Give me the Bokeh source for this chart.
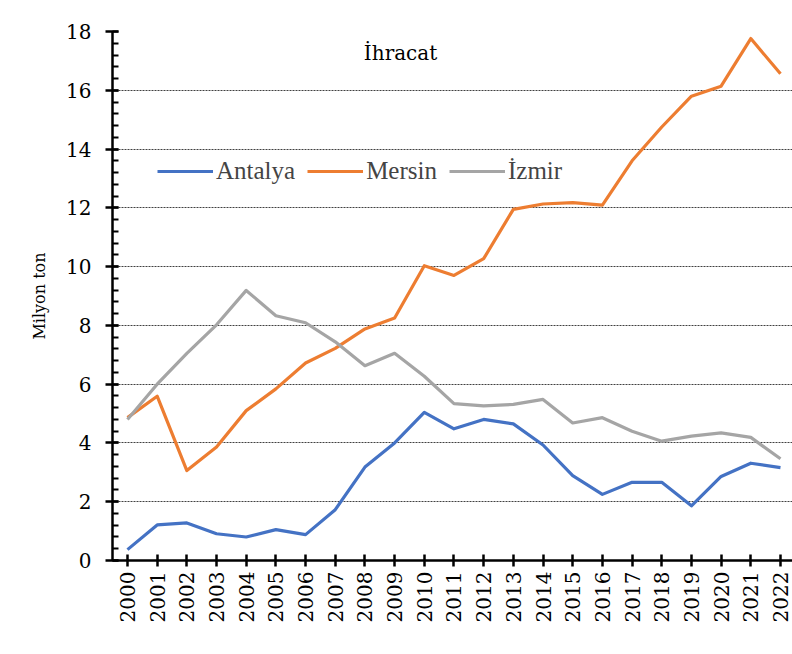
import math
from bokeh.plotting import figure
from bokeh.models import (Range1d, FixedTicker, SingleIntervalTicker, Legend, LegendItem,
                          Label, ColumnDataSource)
from bokeh.embed import file_html
from bokeh.resources import INLINE

years = list(range(2000, 2023))
antalya = [0.37, 1.21, 1.28, 0.91, 0.80, 1.05, 0.88, 1.73, 3.18, 4.00, 5.04, 4.48, 4.80, 4.65,
           3.93, 2.89, 2.25, 2.66, 2.66, 1.86, 2.86, 3.31, 3.16]
mersin = [4.86, 5.59, 3.06, 3.86, 5.10, 5.84, 6.72, 7.22, 7.88, 8.25, 10.03, 9.70, 10.27, 11.95,
          12.13, 12.18, 12.09, 13.60, 14.75, 15.80, 16.14, 17.76, 16.56]
izmir = [4.80, 6.00, 7.05, 8.02, 9.19, 8.33, 8.09, 7.44, 6.63, 7.05, 6.27, 5.34, 5.26, 5.31,
         5.48, 4.68, 4.86, 4.40, 4.06, 4.23, 4.34, 4.19, 3.46]
series_names = ["Antalya", "Mersin", "İzmir"]
series_colors = ["#4472C4", "#ED7D31", "#A5A5A5"]
y_ticks = [0, 2, 4, 6, 8, 10, 12, 14, 16, 18]
title_text = "İhracat"
y_label = "Milyon ton"

LEGEND_FONT = "Liberation Serif"
SERIF = "DejaVu Serif"

p = figure(width=792, height=654, output_backend="svg", toolbar_location=None,
           x_range=Range1d(1999.495, 2022.405), y_range=Range1d(0, 18),
           min_border_left=112, min_border_top=31, min_border_bottom=94, min_border_right=0)
p.outline_line_color = None
p.background_fill_color = "white"
p.border_fill_color = "white"

src = ColumnDataSource(dict(year=years, antalya=antalya, mersin=mersin, izmir=izmir))
renderers = []
for col, color in zip(["antalya", "mersin", "izmir"], series_colors):
    r = p.line("year", col, source=src, line_color=color, line_width=3.2, line_join="round")
    renderers.append(r)

# grid
p.xgrid.grid_line_color = None
p.ygrid.ticker = FixedTicker(ticks=y_ticks[1:])
p.ygrid.grid_line_color = "#404040"
p.ygrid.grid_line_dash = "2 1"
p.ygrid.grid_line_width = 1

# axes
xa = p.xaxis[0]
xa.ticker = FixedTicker(ticks=years)
xa.major_label_orientation = math.pi / 2
xa.major_label_text_font = SERIF
xa.major_label_text_font_size = "20px"
xa.major_label_text_color = "black"
xa.axis_line_width = 2.5
xa.axis_line_color = "black"
xa.major_tick_line_width = 2.5
xa.major_tick_in = 6
xa.major_tick_out = 6
xa.minor_tick_line_color = None
xa.major_label_standoff = 5

ya = p.yaxis[0]
ya.ticker = SingleIntervalTicker(interval=2, num_minor_ticks=5)
ya.major_label_text_font = SERIF
ya.major_label_text_font_size = "20px"
ya.major_label_text_color = "black"
ya.axis_line_width = 2.5
ya.axis_line_color = "black"
ya.major_tick_line_width = 2.5
ya.major_tick_in = 6
ya.major_tick_out = 7
ya.minor_tick_line_width = 2
ya.minor_tick_in = 6
ya.minor_tick_out = 0
ya.major_label_standoff = 14
ya.axis_label = y_label
ya.axis_label_text_font = SERIF
ya.axis_label_text_font_size = "16px"
ya.axis_label_text_font_style = "normal"
ya.axis_label_text_color = "black"
ya.axis_label_standoff = 14

legend = Legend(items=[LegendItem(label=n, renderers=[r]) for n, r in zip(series_names, renderers)],
                orientation="horizontal", location=(45, 375),
                label_text_font=LEGEND_FONT, label_text_font_size="25px",
                glyph_width=56, glyph_height=20, label_standoff=3, spacing=12,
                padding=0, margin=0, border_line_color=None, background_fill_alpha=0)
p.add_layout(legend)

title = Label(x=2009.2, y=17.28, text=title_text, text_font=SERIF, text_font_size="20px",
              text_align="center", text_baseline="middle", text_color="black")
p.add_layout(title)

open("out.html", "w").write(file_html(p, INLINE))
